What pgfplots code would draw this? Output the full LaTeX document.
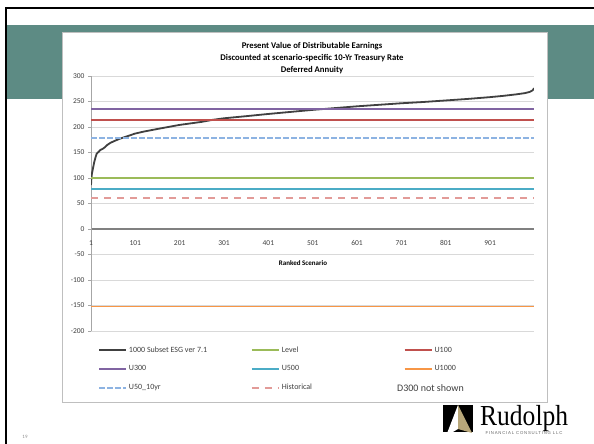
\documentclass[border=0pt]{standalone}
\usepackage{pgfplots}
\pgfplotsset{compat=1.18}
\usepackage{fontspec}
\setmainfont{Carlito}
\newfontfamily\seriffont{Liberation Serif}
\newfontfamily\logosans[LetterSpace=18]{Liberation Sans}
\definecolor{slideteal}{HTML}{5D8B84}
\definecolor{cSubset}{HTML}{404040}
\definecolor{cLevel}{HTML}{9BBB59}
\definecolor{cU100}{HTML}{C0504D}
\definecolor{cU300}{HTML}{8064A2}
\definecolor{cU500}{HTML}{4BACC6}
\definecolor{cU1000}{HTML}{F79646}
\definecolor{cU50}{HTML}{8DB3E2}
\definecolor{cHist}{HTML}{E29B98}
\definecolor{cGrid}{HTML}{D9D9D9}
\definecolor{cAxis}{HTML}{A6A6A6}
\definecolor{cText}{HTML}{404040}
\definecolor{cLogoGold}{HTML}{B8A77A}

\pgfplotstableread{
x y
1 86
2 100
3 108
5 117
8 130
11 140
14 148
18 151
22 155
27 157
32 160
38 165
45 169
55 173
66 177
80 181
100 187
120 191
150 196
200 204
250 210
275 214
300 217
360 222
400 225.5
450 229.5
500 233.5
550 237
600 240.5
650 243.5
700 246.5
750 249
800 252
850 255
900 258.5
930 261
960 264
980 266.5
991 269
997 272
1000 276
}\subsetdata

\begin{document}
\begin{tikzpicture}[x=1pt,y=1pt]
\path[use as bounding box, fill=white] (0,0) rectangle (594,444);
% slide decorations
\fill[slideteal] (6,345) rectangle (594,419);
\draw[line width=2pt] (6,0) -- (6,436) -- (594,436);
\filldraw[fill=white, draw=black!25, line width=0.8pt] (62,42) rectangle (547,412);
\node[font=\fontsize{5}{6}\selectfont, text=black!45] at (25,7) {19};
% logo
\fill[black] (443,12) rectangle (473,39);
\fill[white] (458,39) -- (446,8) -- (458,15) -- cycle;
\fill[cLogoGold] (458,39) -- (458,15) -- (472,11) -- cycle;
\node[anchor=base west, inner sep=0pt, font=\seriffont\fontsize{29}{30}\selectfont] at (480,18) {\scalebox{0.88}[1]{Rudolph}};
\node[inner sep=0pt, font=\logosans\fontsize{4.3}{5}\selectfont, text=black!60] at (524,10.5) {FINANCIAL CONSULTING LLC};
% titles
\node[align=center, font=\bfseries\fontsize{8.7}{12}\selectfont] at (312,386) {Present Value of Distributable Earnings\\Discounted at scenario-specific 10-Yr Treasury Rate\\Deferred Annuity};
\node[font=\bfseries\fontsize{7}{8}\selectfont] at (303,181) {Ranked Scenario};
\node[anchor=west, inner sep=0pt, font=\fontsize{10}{12}\selectfont, text=cText] at (397,56) {D300 not shown};

\begin{axis}[
  at={(91pt,113pt)}, anchor=south west,
  scale only axis, width=443pt, height=255pt,
  xmin=1, xmax=1000, ymin=-200, ymax=300,
  axis x line=middle, axis y line=left,
  hide obscured x ticks=false, hide obscured y ticks=false,
  x axis line style={-, draw=gray, line width=2.5pt},
  y axis line style={-, draw=cAxis, line width=0.6pt},
  xtick={1,101,201,301,401,501,601,701,801,901},
  xticklabels={1,101,201,301,401,501,601,701,801,901},
  x tick style={draw=none},
  ytick={-200,-150,-100,-50,0,50,100,150,200,250,300},
  yticklabels={-200,-150,-100,-50,0,50,100,150,200,250,300},
  y tick style={draw=cAxis},
  tick align=outside, major tick length=3pt,
  ymajorgrids, grid style={draw=cGrid, line width=0.7pt},
  tick label style={font=\fontsize{7.5}{9}\selectfont, text=cText},
  x tick label style={anchor=base, yshift=-13.5pt},
  legend columns=3,
  legend style={at={(0.009,-0.045)}, anchor=north west, draw=none, fill=none,
    font=\fontsize{8}{9.6}\selectfont, text=cText, row sep=8pt},
  legend cell align=left,
  legend image code/.code={\draw[#1] (0pt,0pt) -- (27pt,0pt);},
]
\addplot[cSubset, line width=1.8pt] table[x=x,y=y] {\subsetdata};
\addlegendentry{\makebox[120pt][l]{1000 Subset ESG ver 7.1}}
\addplot[cLevel, line width=1.8pt] coordinates {(1,100) (1000,100)};
\addlegendentry{\makebox[120pt][l]{Level}}
\addplot[cU100, line width=1.8pt] coordinates {(1,214) (1000,214)};
\addlegendentry{\makebox[120pt][l]{U100}}
\addplot[cU300, line width=1.8pt] coordinates {(1,235) (1000,235)};
\addlegendentry{\makebox[120pt][l]{U300}}
\addplot[cU500, line width=1.8pt] coordinates {(1,78) (1000,78)};
\addlegendentry{\makebox[120pt][l]{U500}}
\addplot[cU1000, line width=1.8pt] coordinates {(1,-152) (1000,-152)};
\addlegendentry{\makebox[120pt][l]{U1000}}
\addplot[cU50, line width=1.6pt, dash pattern=on 5.5pt off 2.5pt] coordinates {(1,178) (1000,178)};
\addlegendentry{\makebox[120pt][l]{U50\_10yr}}
\addplot[cHist, line width=1.6pt, dash pattern=on 7pt off 6pt] coordinates {(1,61) (1000,61)};
\addlegendentry{\makebox[120pt][l]{Historical}}
\end{axis}
\end{tikzpicture}
\end{document}
